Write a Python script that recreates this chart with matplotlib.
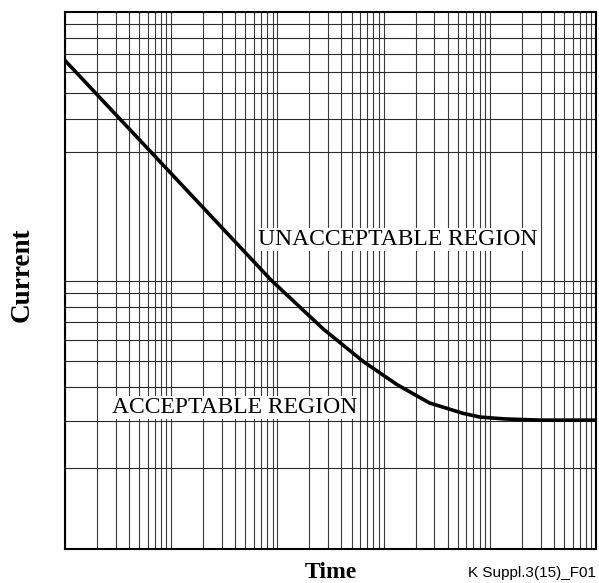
import matplotlib
matplotlib.use("Agg")
import matplotlib.pyplot as plt

# curve (time vs current, log-log)
time = [1, 88, 270, 640, 1330, 2700, 5600, 8100, 14000, 30000, 100000]
current = [66, 10, 6.6, 5.0, 4.1, 3.5, 3.2, 3.1, 3.05, 3.02, 3.02]

# grid lines (the 20 line on the current axis is missing in the original)
x_grid = [m * 10**d for d in range(5) for m in range(1, 10)] + [1e5]
y_grid = [2, 3, 4, 5, 6, 7, 8, 9, 10, 30, 40, 50, 60, 70, 80, 90]

fig = plt.figure(figsize=(5.99, 5.83), dpi=100)
ax = fig.add_axes([0.1085, 0.0583, 0.8866, 0.9211])
ax.set_xscale("log")
ax.set_yscale("log")
ax.set_xlim(1, 1e5)
ax.set_ylim(1, 100)

for xv in x_grid:
    ax.axvline(xv, color="#3a3a3a", lw=0.8, zorder=1)
for yv in y_grid:
    ax.axhline(yv, color="#2a2a2a", lw=0.8, zorder=1)

ax.plot(time, current, color="black", lw=2.6, solid_joinstyle="round", zorder=3)

ax.set_xticks([])
ax.set_yticks([])
ax.minorticks_off()
for s in ax.spines.values():
    s.set_linewidth(1.5)
    s.set_zorder(4)

box = dict(boxstyle="square,pad=0.05", facecolor="white", edgecolor="none")
ax.text(0.088, 0.2533, "ACCEPTABLE REGION", transform=ax.transAxes, family="Liberation Serif",
        fontsize=17, va="baseline", ha="left", bbox=box, zorder=2)
ax.text(0.364, 0.566, "UNACCEPTABLE REGION", transform=ax.transAxes, family="Liberation Serif",
        fontsize=17, va="baseline", ha="left", bbox=box, zorder=2)

fig.text(0.0367, 0.528, "Current", rotation=90, family="Liberation Serif", fontweight="bold",
         fontsize=19.5, ha="center", va="center")
fig.text(0.5526, 0.0172, "Time", family="Liberation Serif", fontweight="bold",
         fontsize=17, ha="center", va="center")
fig.text(0.995, 0.0172, "K Suppl.3(15)_F01", family="Liberation Sans",
         fontsize=11, ha="right", va="center")

fig.savefig("out.png", dpi=100)
